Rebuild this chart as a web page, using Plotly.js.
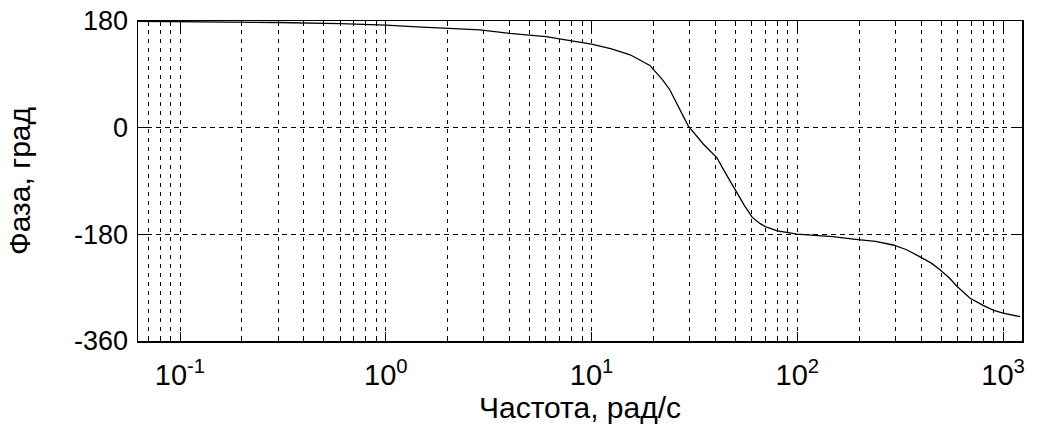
<!DOCTYPE html>
<html>
<head>
<meta charset="utf-8">
<script src="https://cdn.plot.ly/plotly-3.0.1.min.js"></script>
<style>
html,body{margin:0;padding:0;background:#fff;}
#chart{width:1040px;height:432px;}
</style>
</head>
<body>
<div id="chart"></div>
<script>
// Frequency (rad/s) and phase (deg)
const freq = [0.0625, 0.1, 0.3, 0.6, 1, 1.42, 2, 2.87, 4, 6, 8, 10, 12.5, 15.4, 19.2, 22, 24, 27, 29.5, 35, 40.7, 45, 49.8, 55, 60.3, 66, 71, 80, 100, 149, 187, 240, 292, 340, 395, 450, 495, 550, 598, 692, 800, 894, 1000, 1211];
const phase = [179.5, 179, 177.5, 175.5, 173, 170, 168, 165, 159, 153.5, 146.5, 141, 133, 123, 105, 82, 64, 30, 3, -28, -51, -78, -105, -130, -151, -162, -168, -174, -179.5, -184, -188, -192, -198, -206, -218, -229, -240, -254, -268, -288, -300, -308, -313, -319];

const xMajorVals = [0.1, 1, 10, 100, 1000];
const xMajorText = ['10<sup>-1</sup>', '10<sup>0</sup>', '10<sup>1</sup>', '10<sup>2</sup>', '10<sup>3</sup>'];
const xMinorVals = [0.07, 0.08, 0.09,
  0.2, 0.3, 0.4, 0.5, 0.6, 0.7, 0.8, 0.9,
  2, 3, 4, 5, 6, 7, 8, 9,
  20, 30, 40, 50, 60, 70, 80, 90,
  200, 300, 400, 500, 600, 700, 800, 900];
const yTickVals = [-360, -180, 0, 180];
const yTickText = ['-360', '-180', '0', '180'];

const xTitle = 'Частота, рад/с';
const yTitle = 'Фаза, град';

const FONT = '"Liberation Sans Narrow", "Liberation Sans", Arial, sans-serif';

const trace = {
  x: freq, y: phase, type: 'scatter', mode: 'lines',
  line: {color: '#000', width: 1.3, shape: 'linear'},
  hoverinfo: 'skip'
};

const layout = {
  width: 1040, height: 432,
  margin: {l: 138, r: 18, t: 21, b: 91},
  paper_bgcolor: '#fff', plot_bgcolor: '#fff',
  showlegend: false,
  font: {family: FONT, size: 27, color: '#000'},
  xaxis: {
    type: 'log',
    range: [Math.log10(0.0625), Math.log10(1236)],
    tickmode: 'array', tickvals: xMajorVals, ticktext: xMajorText,
    ticks: 'inside', ticklen: 9, tickwidth: 1, tickcolor: '#000',
    ticklabelstandoff: 8,
    showgrid: true, gridcolor: '#000', gridwidth: 1, griddash: '4px,5px',
    minor: {
      tickmode: 'array', tickvals: xMinorVals,
      ticks: 'inside', ticklen: 5, tickwidth: 1, tickcolor: '#000',
      showgrid: true, gridcolor: '#000', gridwidth: 1, griddash: '4px,5px'
    },
    showline: true, linecolor: '#000', linewidth: 1.5, mirror: 'allticks',
    zeroline: false,
    tickfont: {family: FONT, size: 29, color: '#000'},
    title: {text: xTitle, font: {family: FONT, size: 30, color: '#000'}, standoff: 0},
    fixedrange: true
  },
  yaxis: {
    range: [-360, 180],
    tickmode: 'array', tickvals: yTickVals, ticktext: yTickText,
    ticks: 'inside', ticklen: 9, tickwidth: 1, tickcolor: '#000',
    ticklabelstandoff: 3,
    showgrid: true, gridcolor: '#000', gridwidth: 1, griddash: '5px,4px',
    showline: true, linecolor: '#000', linewidth: 1.5, mirror: 'allticks',
    zeroline: false,
    tickfont: {family: FONT, size: 27, color: '#000'},
    title: {text: yTitle, font: {family: FONT, size: 30, color: '#000'}, standoff: 34},
    fixedrange: true
  }
};

Plotly.newPlot('chart', [trace], layout, {displayModeBar: false, staticPlot: true});
</script>
</body>
</html>
